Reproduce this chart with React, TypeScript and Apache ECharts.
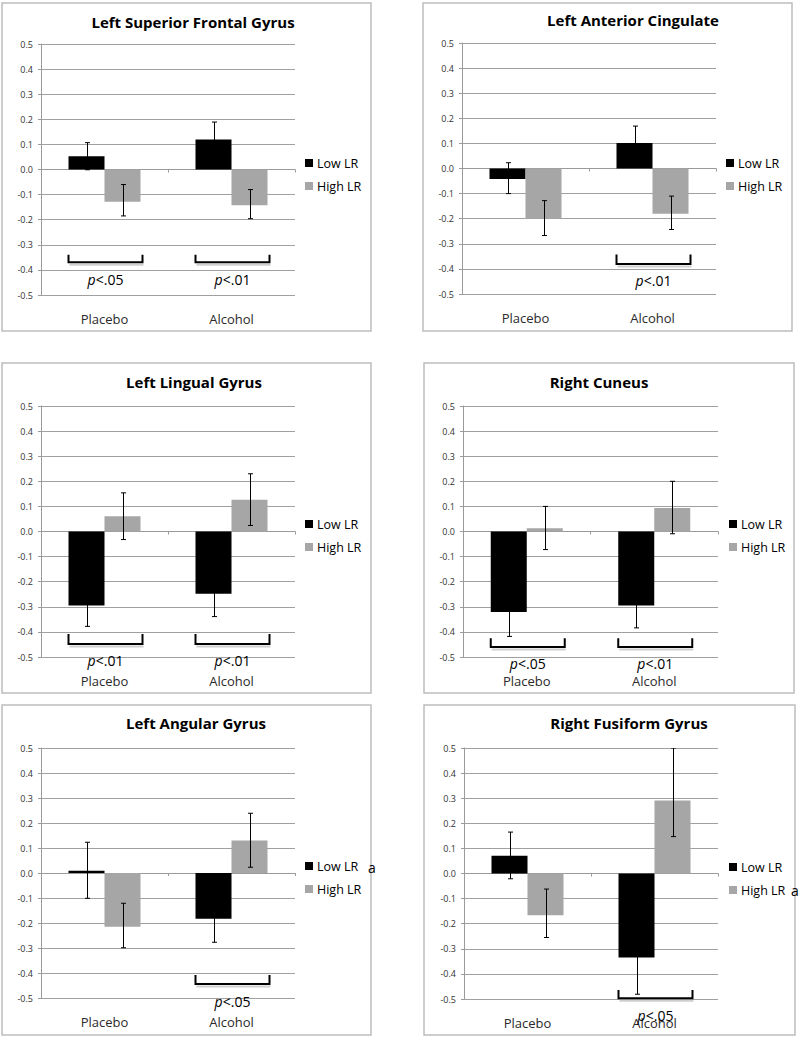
import React, { useEffect, useRef } from "react";
import * as echarts from "echarts";

const FONT = "'Open Sans', 'Noto Sans', sans-serif";

// ---------- data ----------
const categories = ["Placebo", "Alcohol"];
const seriesNames = ["Low LR", "High LR"];
const regionTitles = [
  "Left Superior Frontal Gyrus",
  "Left Anterior Cingulate",
  "Left Lingual Gyrus",
  "Right Cuneus",
  "Left Angular Gyrus",
  "Right Fusiform Gyrus",
];
const yTicks = [-0.5, -0.4, -0.3, -0.2, -0.1, 0.0, 0.1, 0.2, 0.3, 0.4, 0.5];
const yTickLabels = ["-0.5", "-0.4", "-0.3", "-0.2", "-0.1", "0.0", "0.1", "0.2", "0.3", "0.4", "0.5"];

// per panel: [Placebo, Alcohol]
const lowLR = [
  [0.053, 0.12],
  [-0.042, 0.102],
  [-0.295, -0.248],
  [-0.321, -0.295],
  [0.009, -0.183],
  [0.071, -0.335],
];
const highLR = [
  [-0.128, -0.142],
  [-0.2, -0.18],
  [0.061, 0.126],
  [0.013, 0.094],
  [-0.215, 0.13],
  [-0.166, 0.291],
];
const lowLRErrPlus = [
  [0.054, 0.069],
  [0.065, 0.067],
  [0.083, 0.091],
  [0.097, 0.089],
  [0.114, 0.094],
  [0.094, 0.146],
];
const lowLRErrMinus = [
  [0.054, 0.069],
  [0.058, 0.067],
  [0.083, 0.091],
  [0.097, 0.089],
  [0.11, 0.094],
  [0.092, 0.146],
];
const highLRErrPlus = [
  [0.068, 0.062],
  [0.072, 0.07],
  [0.093, 0.104],
  [0.087, 0.106],
  [0.094, 0.109],
  [0.104, 0.209],
];
const highLRErrMinus = [
  [0.057, 0.054],
  [0.067, 0.063],
  [0.093, 0.102],
  [0.085, 0.103],
  [0.084, 0.107],
  [0.089, 0.144],
];
// significance brackets: [panel, category, level, tick top, p label]
const brackets: [number, number, number, number, string][] = [
  [0, 0, -0.37, -0.34, "<.05"],
  [0, 1, -0.37, -0.34, "<.01"],
  [1, 1, -0.38, -0.343, "<.01"],
  [2, 0, -0.448, -0.408, "<.01"],
  [2, 1, -0.448, -0.408, "<.01"],
  [3, 0, -0.46, -0.425, "<.05"],
  [3, 1, -0.46, -0.425, "<.01"],
  [4, 1, -0.444, -0.408, "<.05"],
  [5, 1, -0.497, -0.464, "<.05"],
];
const footnoteMarks = ["", "", "", "", "a", "a"];

// ---------- layout (positions / styles only) ----------
const LAYOUT = [
  { grid: [41, 44, 254, 251], box: [2, 3, 369, 328], title: [193, 22], legend: [305, 156], mark: null },
  { grid: [462, 43, 254, 251], box: [423, 3, 369, 328], title: [633, 20], legend: [726, 156], mark: null },
  { grid: [41, 406, 254, 251], box: [2, 363, 369, 330], title: [194, 382], legend: [305, 517], mark: null },
  { grid: [463, 406, 255, 251], box: [424, 363, 370, 330], title: [599, 382], legend: [729, 517], mark: null },
  { grid: [41, 748, 254, 250], box: [2, 705, 369, 330], title: [196, 723], legend: [305, 859], mark: [372, 867] },
  { grid: [464, 748, 254, 251], box: [424, 705, 371, 330], title: [629, 723], legend: [729, 860], mark: [795, 890] },
];
const BAR_W = 36;
const COLORS = ["#000000", "#a6a6a6"];

function buildOption() {
  const grid: any[] = [];
  const xAxis: any[] = [];
  const yAxis: any[] = [];
  const series: any[] = [];
  const legend: any[] = [];
  const graphic: any[] = [];

  LAYOUT.forEach((L, i) => {
    const [gl, gt, gw, gh] = L.grid;
    grid.push({ left: gl, top: gt, width: gw, height: gh, containLabel: false });
    // zero line axis
    xAxis.push({
      type: "category",
      gridIndex: i,
      data: categories,
      position: "bottom",
      axisLine: { show: true, onZero: true, lineStyle: { color: "#9a9a9a", width: 1 } },
      axisTick: { show: true, length: 3, lineStyle: { color: "#9a9a9a" } },
      axisLabel: { show: false },
      splitLine: { show: false },
    });
    // label axis at bottom
    xAxis.push({
      type: "category",
      gridIndex: i,
      data: categories,
      position: "bottom",
      axisLine: { show: false, onZero: false },
      axisTick: { show: false },
      axisLabel: { show: true, fontSize: 13, color: "#2a2a2a", fontFamily: FONT, margin: 17 },
      splitLine: { show: false },
    });
    yAxis.push({
      type: "value",
      gridIndex: i,
      min: yTicks[0],
      max: yTicks[yTicks.length - 1],
      interval: 0.1,
      axisLine: { show: true, lineStyle: { color: "#9a9a9a" } },
      axisTick: { show: true, length: 3, lineStyle: { color: "#9a9a9a" } },
      axisLabel: {
        fontSize: 9,
        color: "#333",
        fontFamily: FONT,
        margin: 8,
        formatter: (v: number) => {
          const k = yTicks.findIndex((t) => Math.abs(t - v) < 1e-6);
          return k >= 0 ? yTickLabels[k] : "";
        },
      },
      splitLine: { show: true, lineStyle: { color: "#a0a0a0", width: 1 } },
    });

    const vals = [lowLR[i], highLR[i]];
    vals.forEach((d, s) => {
      series.push({
        type: "bar",
        name: seriesNames[s],
        xAxisIndex: 2 * i,
        yAxisIndex: i,
        data: d,
        barWidth: BAR_W,
        barGap: "0%",
        itemStyle: { color: COLORS[s] },
        z: 2,
      });
    });

    // error bars
    const errData: number[][] = [];
    categories.forEach((_, c) => {
      errData.push([c, lowLR[i][c], lowLRErrMinus[i][c], lowLRErrPlus[i][c], 0]);
      errData.push([c, highLR[i][c], highLRErrMinus[i][c], highLRErrPlus[i][c], 1]);
    });
    series.push({
      type: "custom",
      name: "err" + i,
      xAxisIndex: 2 * i,
      yAxisIndex: i,
      clip: true,
      z: 5,
      data: errData,
      renderItem: (params: any, api: any) => {
        const c = api.value(0);
        const v = api.value(1);
        const lo = api.value(2);
        const hi = api.value(3);
        const s = api.value(4);
        const p = api.coord([c, v]);
        const x = Math.round(p[0] + (s === 0 ? -BAR_W / 2 : BAR_W / 2)) + 0.5;
        const yT = api.coord([c, v + hi])[1];
        const yB = api.coord([c, v - lo])[1];
        const st = { stroke: "#000", lineWidth: 1 };
        return {
          type: "group",
          children: [
            { type: "line", shape: { x1: x, y1: yT, x2: x, y2: yB }, style: st },
            { type: "line", shape: { x1: x - 2.5, y1: yT, x2: x + 2.5, y2: yT }, style: st },
            { type: "line", shape: { x1: x - 2.5, y1: yB, x2: x + 2.5, y2: yB }, style: st },
          ],
        };
      },
    });

    // brackets
    const br = brackets.filter((b) => b[0] === i);
    series.push({
      type: "custom",
      name: "br" + i,
      xAxisIndex: 2 * i,
      yAxisIndex: i,
      clip: false,
      z: 6,
      data: br.map((b) => [b[1], b[2], b[3]]),
      renderItem: (params: any, api: any) => {
        const c = api.value(0);
        const p = api.coord([c, api.value(1)]);
        const t = api.coord([c, api.value(2)])[1];
        const cx = p[0] + 1;
        const x1 = cx - 37;
        const x2 = cx + 37;
        const label = br[params.dataIndex][4];
        return {
          type: "group",
          children: [
            { type: "line", shape: { x1: x1 + 1, y1: p[1] + 2.5, x2: x2 + 1, y2: p[1] + 2.5 }, style: { stroke: "#cfcfcf", lineWidth: 2 } },
            {
              type: "polyline",
              shape: { points: [[x1, t], [x1, p[1]], [x2, p[1]], [x2, t]] },
              style: { stroke: "#000", lineWidth: 2, fill: null },
            },
            {
              type: "text",
              x: cx,
              y: p[1] + 17,
              style: {
                text: "{i|p}" + label,
                rich: { i: { fontStyle: "italic", fontSize: 14, fontFamily: FONT, fill: "#000" } },
                fontSize: 14,
                fontFamily: FONT,
                fill: "#000",
                align: "center",
                verticalAlign: "middle",
                textAlign: "center",
                textVerticalAlign: "middle",
              },
            },
          ],
        };
      },
    });

    legend.push({
      orient: "vertical",
      left: L.legend[0],
      top: L.legend[1],
      padding: 0,
      itemWidth: 8,
      itemHeight: 8,
      itemGap: 9,
      icon: "rect",
      data: seriesNames,
      selectedMode: false,
      textStyle: { fontSize: 12.5, color: "#000", fontFamily: FONT, lineHeight: 14, padding: [0, 0, 0, -1] },
    });

    graphic.push({
      type: "rect",
      shape: { x: L.box[0], y: L.box[1], width: L.box[2], height: L.box[3] },
      style: { stroke: "#bdbdbd", lineWidth: 1.5, fill: "none" },
      z: 0,
    });
    graphic.push({
      type: "text",
      x: L.title[0],
      y: L.title[1],
      style: {
        text: regionTitles[i],
        fontSize: 15,
        fontWeight: "bold",
        fontFamily: FONT,
        fill: "#000",
        align: "center",
        verticalAlign: "middle",
        textAlign: "center",
        textVerticalAlign: "middle",
      },
    });
    if (L.mark && footnoteMarks[i]) {
      graphic.push({
        type: "text",
        x: L.mark[0],
        y: L.mark[1],
        style: {
          text: footnoteMarks[i],
          fontSize: 14,
          fontStyle: "normal",
          fontFamily: FONT,
          fill: "#000",
          align: "center",
          verticalAlign: "middle",
          textAlign: "center",
          textVerticalAlign: "middle",
        },
      });
    }
  });

  return {
    animation: false,
    backgroundColor: "#ffffff",
    textStyle: { fontFamily: FONT },
    grid,
    xAxis,
    yAxis,
    series,
    legend,
    graphic,
  };
}

export default function App() {
  const ref = useRef<HTMLDivElement>(null);
  useEffect(() => {
    document.body.style.margin = "0";
    if (!ref.current) return;
    const chart = echarts.init(ref.current, null, { renderer: "svg" });
    chart.setOption(buildOption() as any);
    return () => chart.dispose();
  }, []);
  return <div ref={ref} style={{ width: 800, height: 1037 }} />;
}
